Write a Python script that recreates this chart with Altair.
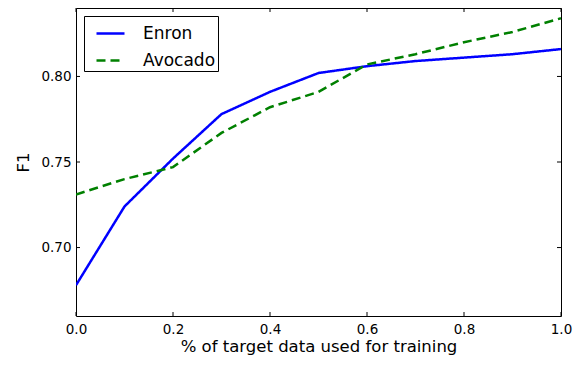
import altair as alt
import pandas as pd

xs = [0.0, 0.1, 0.2, 0.3, 0.4, 0.5, 0.6, 0.7, 0.8, 0.9, 1.0]
enron = [0.678, 0.724, 0.752, 0.778, 0.791, 0.802, 0.806, 0.809, 0.811, 0.813, 0.816]
avocado = [0.731, 0.740, 0.747, 0.767, 0.782, 0.791, 0.807, 0.813, 0.820, 0.826, 0.834]
series = ["Enron", "Avocado"]
x_ticks = [0.0, 0.2, 0.4, 0.6, 0.8, 1.0]
y_ticks = [0.70, 0.75, 0.80]

W, H = 485, 308
XD = [0, 1]
YD = [0.66, 0.84]

rows = []
for x, e, a in zip(xs, enron, avocado):
    rows.append({"x": x, "f1": e, "series": "Enron"})
    rows.append({"x": x, "f1": a, "series": "Avocado"})
df = pd.DataFrame(rows)

xscale = alt.Scale(domain=XD, nice=False, zero=False)
yscale = alt.Scale(domain=YD, nice=False, zero=False)

xaxis = alt.Axis(title="% of target data used for training", values=x_ticks,
                 format=".1f", ticks=False, domain=False, grid=False,
                 labelFlush=False, labelOverlap=False,
                 labelPadding=6, titlePadding=3, labelFontSize=13.5,
                 titleFontSize=16.5, titleFontWeight="normal")
yaxis = alt.Axis(title="F1", values=y_ticks, format=".2f", ticks=False,
                 domain=False, grid=False, labelFlush=False, labelOverlap=False,
                 labelPadding=5, titlePadding=9,
                 labelFontSize=13.5, titleFontSize=16.5, titleFontWeight="normal")

X = alt.X("x:Q", scale=xscale, axis=xaxis)
Y = alt.Y("f1:Q", scale=yscale, axis=yaxis)

lines = alt.Chart(df).mark_line(strokeWidth=2.5, clip=True).encode(
    x=X, y=Y,
    color=alt.Color("series:N", scale=alt.Scale(domain=series, range=["#0000ff", "#008000"]),
                    legend=alt.Legend(title=None)),
    strokeDash=alt.StrokeDash("series:N", scale=alt.Scale(domain=series, range=[[1, 0], [9, 5]]),
                              legend=alt.Legend(title=None)),
)

xt = pd.DataFrame({"x": x_ticks})
yt = pd.DataFrame({"f1": y_ticks})

tick_b = alt.Chart(xt).mark_rule(color="black", strokeWidth=1).encode(
    x=X, y=alt.value(H), y2=alt.value(H - 4))
tick_t = alt.Chart(xt).mark_rule(color="black", strokeWidth=1).encode(
    x=X, y=alt.value(0), y2=alt.value(4))
tick_l = alt.Chart(yt).mark_rule(color="black", strokeWidth=1).encode(
    y=Y, x=alt.value(0), x2=alt.value(4))
tick_r = alt.Chart(yt).mark_rule(color="black", strokeWidth=1).encode(
    y=Y, x=alt.value(W), x2=alt.value(W - 4))

chart = alt.layer(lines, tick_b, tick_t, tick_l, tick_r).properties(
    width=W, height=H,
    autosize=alt.AutoSizeParams(type="none"),
    padding={"left": 68, "top": 0, "right": 12, "bottom": 46},
).configure(
    font="DejaVu Sans",
).configure_view(
    stroke="black", strokeWidth=1,
).configure_axis(
    labelColor="black", titleColor="black", labelFont="DejaVu Sans", titleFont="DejaVu Sans",
).configure_legend(
    orient="top-left", offset=8, strokeColor="black", fillColor="white", padding=2,
    symbolType="stroke", symbolSize=784, symbolStrokeWidth=2.5, labelFontSize=17,
    labelFont="DejaVu Sans", symbolOffset=9,
    labelColor="black", rowPadding=3, labelOffset=17, cornerRadius=0,
)

chart.save("out.html", embed_options={"renderer": "svg", "actions": False})
